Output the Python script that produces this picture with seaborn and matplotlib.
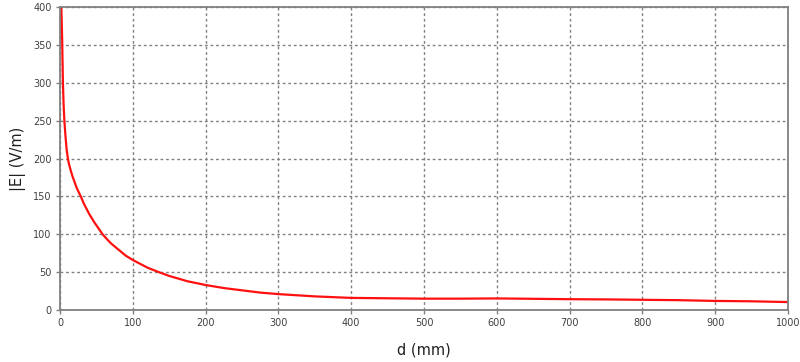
import matplotlib
matplotlib.use("Agg")
import matplotlib.pyplot as plt
import seaborn as sns
import pandas as pd

d_mm = [1.8, 2.5, 3, 4, 5, 6, 7.5, 9, 10.5, 12, 14.5, 17, 23, 28.5, 33, 40, 47, 58.5,
        65, 70, 80, 90, 100, 120, 133, 150, 175, 200, 225, 250, 275, 300, 325,
        350, 375, 400, 450, 500, 550, 600, 650, 700, 750, 800, 850, 900, 950, 1000]
e_vm = [400, 375, 355, 300, 270, 250, 230, 213, 202, 194, 185, 177, 161, 150, 140,
        127, 116, 100, 93, 88, 80, 72, 66, 56, 51, 45, 38, 33, 29, 26, 23, 21,
        19.5, 18, 17, 16, 15.5, 15, 15, 15.3, 14.8, 14.3, 14, 13.5, 13, 12, 11.5, 10.5]
x_ticks = [0, 100, 200, 300, 400, 500, 600, 700, 800, 900, 1000]
y_ticks = [0, 50, 100, 150, 200, 250, 300, 350, 400]

sns.set_style("white")
plt.rcParams['font.family'] = ['DejaVu Sans']

df = pd.DataFrame({"d": d_mm, "E": e_vm})
fig = plt.figure(figsize=(8, 3.62), dpi=100)
ax = fig.add_axes([0.075, 0.1436, 0.91, 0.837])
sns.lineplot(data=df, x="d", y="E", ax=ax, color="#ff1010", linewidth=1.6)

ax.set_xlim(0, 1000)
ax.set_ylim(0, 400)
ax.set_xticks(x_ticks)
ax.set_yticks(y_ticks)
ax.grid(True, linestyle=(0, (2, 2)), color="#808080", linewidth=1.0)
for s in ax.spines.values():
    s.set_color("#808080")
    s.set_linewidth(1.3)
ax.tick_params(axis="both", direction="out", length=3, width=1, color="#808080",
               labelsize=7, labelcolor="#404040", pad=3, bottom=True, left=True)
ax.set_xlabel("d (mm)", fontsize=10.5, color="#202020", labelpad=10)
ax.set_ylabel("|E| (V/m)", fontsize=10.5, color="#202020", labelpad=5)
fig.savefig("out.png", dpi=100)
